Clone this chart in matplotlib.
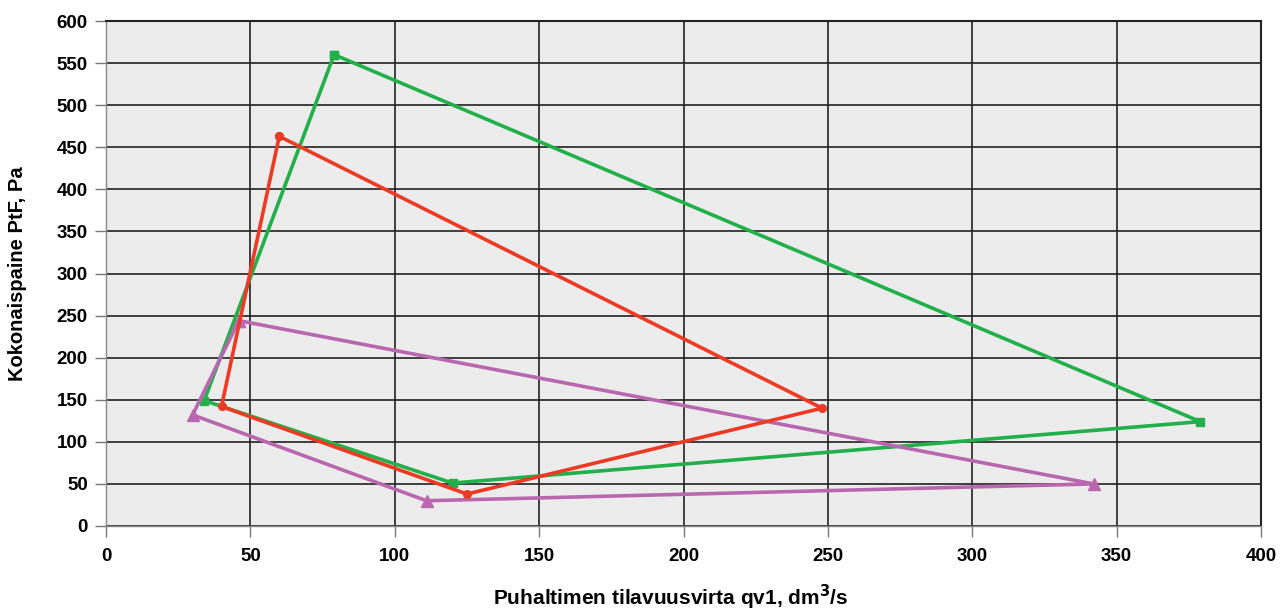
import matplotlib.pyplot as plt

# Fan operating areas (closed polygons)
green_x = [79, 379, 120, 34, 79]
green_y = [560, 124, 51, 149, 560]

red_x = [60, 248, 125, 40, 60]
red_y = [463, 140, 38, 142, 463]

purple_x = [46, 342, 111, 30, 46]
purple_y = [244, 50, 30, 132, 244]

x_ticks = list(range(0, 401, 50))
y_ticks = list(range(0, 601, 50))

plt.rcParams["font.family"] = ["Liberation Sans", "DejaVu Sans"]

fig = plt.figure(figsize=(12.87, 6.11), dpi=100)
ax = fig.add_axes([106 / 1287, 1 - 526 / 611, 1155 / 1287, 505 / 611])
ax.set_facecolor("#ececec")

ax.plot(green_x, green_y, color="#22b04a", lw=2.6, marker="s", ms=6, zorder=3)
ax.plot(red_x, red_y, color="#ee3a24", lw=2.6, marker="o", ms=5.5, zorder=4)
ax.plot(purple_x, purple_y, color="#b968b0", lw=2.6, marker="^", ms=8, zorder=3)

ax.set_xlim(0, 400)
ax.set_ylim(0, 600)
ax.set_xticks(x_ticks)
ax.set_yticks(y_ticks)
ax.grid(True, color="#222222", lw=1.2, zorder=1)
ax.set_axisbelow(True)

for lab in ax.get_xticklabels() + ax.get_yticklabels():
    lab.set_fontweight("bold")
    lab.set_fontsize(13.5)
ax.tick_params(axis="y", length=8, width=1, color="#777777", pad=5)
ax.tick_params(axis="x", length=8, width=1, color="#777777", pad=8)

for side in ["top", "right"]:
    ax.spines[side].set_color("#222222")
    ax.spines[side].set_linewidth(1.5)
for side in ["left", "bottom"]:
    ax.spines[side].set_color("#888888")
    ax.spines[side].set_linewidth(1)

ax.set_ylabel("Kokonaispaine PtF, Pa", fontsize=14.5, fontweight="bold")
ax.yaxis.label.set_va("center")
ax.yaxis.set_label_coords((18 - 106) / 1155, 0.5)

ax.set_xlabel("Puhaltimen tilavuusvirta qv1, dm$^\\mathbf{3}$/s", fontsize=15,
              fontweight="bold")
ax.xaxis.label.set_va("center")
ax.xaxis.set_label_coords((671 - 106) / 1155, (526 - 597) / 505)

fig.savefig("out.png", dpi=100)
